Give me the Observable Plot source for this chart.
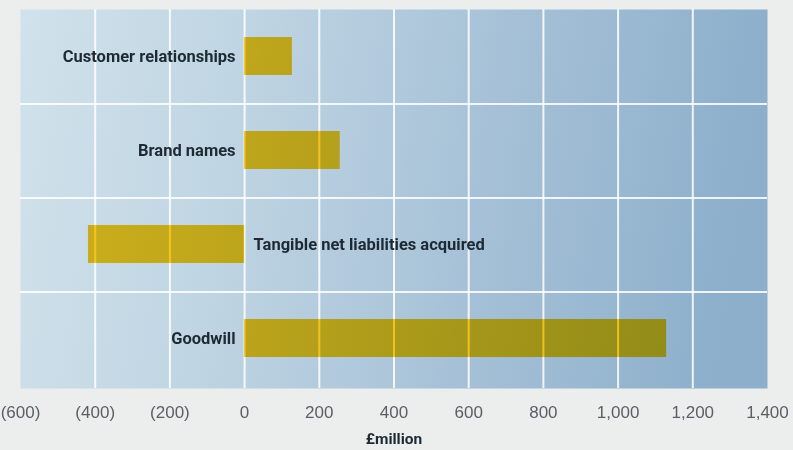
<!DOCTYPE html>
<html><head><meta charset="utf-8">
<script src="https://cdn.jsdelivr.net/npm/d3@7"></script>
<script src="https://cdn.jsdelivr.net/npm/@observablehq/plot@0.6"></script>
<style>
html,body{margin:0;padding:0;background:#eceeee;overflow:hidden}
</style></head><body><div id="chart"></div>
<script>
const categories = ["Customer relationships", "Brand names", "Tangible net liabilities acquired", "Goodwill"];
const values = [128, 256, -418, 1130];
const tickValues = [-600, -400, -200, 0, 200, 400, 600, 800, 1000, 1200, 1400];
const tickLabels = ["(600)", "(400)", "(200)", "0", "200", "400", "600", "800", "1,000", "1,200", "1,400"];
const axisTitle = "£million";

const data = categories.map((c, i) => ({category: c, value: values[i]}));

const defs = () => {
  const d = d3.create("svg:defs");
  const g = d.append("linearGradient").attr("id", "bg")
    .attr("x1", 0).attr("y1", 0).attr("x2", 1).attr("y2", 0.08);
  g.append("stop").attr("offset", 0).attr("stop-color", "#d0e2eb");
  g.append("stop").attr("offset", 0.3).attr("stop-color", "#c0d5e3");
  g.append("stop").attr("offset", 0.65).attr("stop-color", "#a6c1d7");
  g.append("stop").attr("offset", 1).attr("stop-color", "#8dafcb");
  return d.node();
};

const labelFont = "Roboto, 'Liberation Sans', sans-serif";

const plot = Plot.plot({
  width: 793,
  height: 450,
  marginTop: 9,
  marginBottom: 65,
  marginLeft: 20,
  marginRight: 26,
  style: {background: "transparent", fontFamily: "'Liberation Sans', Arial, sans-serif"},
  x: {domain: [-600, 1400]},
  y: {domain: categories, padding: 0, axis: null},
  marks: [
    defs,
    Plot.frame({fill: "url(#bg)", insetBottom: -3}),
    Plot.ruleX(tickValues.slice(1, -1), {stroke: "white", strokeWidth: 2, strokeOpacity: 0.85, insetBottom: -3}),
    Plot.barX(categories.slice(1), {x1: -600, x2: 1400, y: d => d, insetBottom: 92, fill: "white", fillOpacity: 0.85}),
    Plot.barX(data, {x1: 0, x2: "value", y: "category", fill: "#ffc81e", insetTop: 28, insetBottom: 28, mixBlendMode: "multiply"}),
    Plot.text(data.filter(d => d.value >= 0), {x: 0, y: "category", text: "category", textAnchor: "end", dx: -9,
      fontWeight: "bold", fontSize: 16.5, fill: "#1d2933", fontFamily: labelFont}),
    Plot.text(data.filter(d => d.value < 0), {x: 0, y: "category", text: "category", textAnchor: "start", dx: 9,
      fontWeight: "bold", fontSize: 16.5, fill: "#1d2933", fontFamily: labelFont}),
    Plot.axisX(tickValues, {tickFormat: d => tickLabels[tickValues.indexOf(d)], tickSize: 0, tickPadding: 20,
      fontSize: 17, fill: "#5a5f64", label: null}),
    Plot.text([axisTitle], {frameAnchor: "bottom", dy: 58, fontWeight: "bold", fontSize: 15.5, fill: "#1d2933",
      fontFamily: labelFont})
  ]
});
document.getElementById("chart").appendChild(plot);
</script>
</body></html>
